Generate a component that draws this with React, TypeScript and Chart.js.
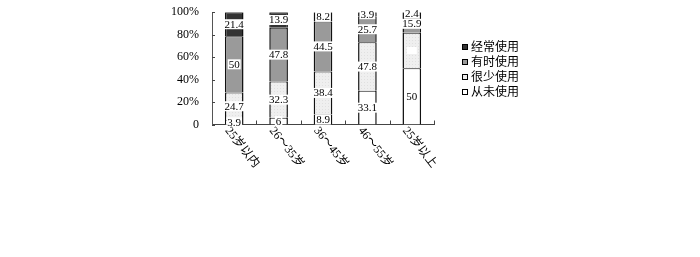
import { useEffect, useRef } from 'react';
import { Chart, registerables } from 'chart.js';

Chart.register(...registerables);

// Age groups along the x axis
const categories = ['25岁以内', '26～35岁', '36～45岁', '46～55岁', '25岁以上'];

// Survey answers per age group (percent of respondents), stacked bottom to top
const neverUse = [3.9, 6, 8.9, 33.1, 50];
const rarelyUse = [24.7, 32.3, 38.4, 47.8, 31.7];
const sometimesUse = [50, 47.8, 44.5, 25.7, 15.9];
const oftenUse = [21.4, 13.9, 8.2, 3.9, 2.4];

// Segment captions; null leaves an empty caption box
const neverText = ['3.9', '6', '8.9', '33.1', '50'];
const rarelyText = ['24.7', '32.3', '38.4', '47.8', null];
const sometimesText = ['50', '47.8', '44.5', '25.7', '15.9'];
const oftenText = ['21.4', '13.9', '8.2', '3.9', '2.4'];

const seriesNames = ['从未使用', '很少使用', '有时使用', '经常使用'];
const yTickValues = [0, 20, 40, 60, 80, 100];

const FONT = '"Liberation Serif", "Noto Sans CJK SC", serif';

function dottedPattern(): CanvasPattern | string {
  const c = document.createElement('canvas');
  c.width = 3;
  c.height = 3;
  const g = c.getContext('2d');
  if (!g) return '#eeeeee';
  g.fillStyle = '#efefef';
  g.fillRect(0, 0, 3, 3);
  g.fillStyle = '#e0e0e0';
  g.fillRect(1, 1, 1, 1);
  return g.createPattern(c, 'repeat') || '#eeeeee';
}

// 100% stacked: each group is scaled to its own total
function toShares(series: number[][]): number[][] {
  const totals = categories.map((_, i) => series.reduce((s, arr) => s + arr[i], 0));
  return series.map(arr => arr.map((v, i) => (v / totals[i]) * 100));
}

export default function App() {
  const canvasRef = useRef<HTMLCanvasElement | null>(null);

  useEffect(() => {
    const canvas = canvasRef.current;
    if (!canvas) return;

    const raw = [neverUse, rarelyUse, sometimesUse, oftenUse];
    const shares = toShares(raw);
    const texts = [neverText, rarelyText, sometimesText, oftenText];
    const colors: (string | CanvasPattern)[] = ['#ffffff', dottedPattern(), '#9a9a9a', '#333333'];

    const segmentLabels = {
      id: 'segmentLabels',
      afterDatasetsDraw(chart: any) {
        const ctx = chart.ctx;
        ctx.save();
        ctx.font = `11px ${FONT}`;
        ctx.textAlign = 'center';
        ctx.textBaseline = 'middle';
        chart.data.datasets.forEach((_: any, di: number) => {
          const meta = chart.getDatasetMeta(di);
          meta.data.forEach((bar: any, i: number) => {
            const text = texts[di][i];
            const { x, y, base } = bar.getProps(['x', 'y', 'base'], true);
            const cy = (y + base) / 2;
            const label = text ?? '';
            const w = label ? ctx.measureText(label).width + 2 : 10;
            const h = label ? 10 : 7;
            ctx.fillStyle = '#ffffff';
            ctx.fillRect(x - w / 2, cy - h / 2, w, h);
            if (label) {
              ctx.fillStyle = '#000000';
              ctx.fillText(label, x, cy + 0.5);
            }
          });
        });
        ctx.restore();
      },
    };

    const axisDecor = {
      id: 'axisDecor',
      afterDraw(chart: any) {
        const ctx = chart.ctx;
        const { left, right, bottom } = chart.chartArea;
        const xScale = chart.scales.x;
        const yScale = chart.scales.y;
        ctx.save();
        // inward tick marks
        ctx.strokeStyle = '#444444';
        ctx.lineWidth = 1;
        ctx.beginPath();
        yTickValues.forEach(v => {
          const py = Math.round(yScale.getPixelForValue(v)) + 0.5;
          ctx.moveTo(left, py);
          ctx.lineTo(left + 3, py);
        });
        const step = (right - left) / categories.length;
        for (let i = 1; i <= categories.length; i++) {
          const px = Math.round(left + i * step) + 0.5;
          ctx.moveTo(px, bottom);
          ctx.lineTo(px, bottom - 4);
        }
        ctx.stroke();

        // slanted category labels
        ctx.fillStyle = '#000000';
        ctx.font = `12px ${FONT}`;
        ctx.textAlign = 'left';
        ctx.textBaseline = 'middle';
        categories.forEach((c, i) => {
          const px = xScale.getPixelForValue(i);
          ctx.save();
          ctx.translate(px - 7, bottom + 4);
          ctx.rotate((52 * Math.PI) / 180);
          ctx.fillText(c, 0, 0);
          ctx.restore();
        });

        // legend, top series first
        const lx = 462;
        let ly = 47;
        ctx.font = `12px ${FONT}`;
        for (let di = chart.data.datasets.length - 1; di >= 0; di--) {
          const ds = chart.data.datasets[di];
          ctx.fillStyle = ds.backgroundColor;
          ctx.fillRect(lx, ly - 3, 6, 6);
          ctx.strokeStyle = '#000000';
          ctx.strokeRect(lx + 0.5, ly - 2.5, 5, 5);
          ctx.fillStyle = '#000000';
          ctx.fillText(ds.label, lx + 9, ly + 0.5);
          ly += 15;
        }
        ctx.restore();
      },
    };

    const chart = new Chart(canvas, {
      type: 'bar',
      data: {
        labels: categories,
        datasets: shares.map((d, di) => ({
          label: seriesNames[di],
          data: d,
          backgroundColor: colors[di] as any,
          borderColor: '#111111',
          borderWidth: { left: 1.5, right: 1.5, top: 1, bottom: 0 },
          borderSkipped: false,
          barPercentage: 0.42,
          categoryPercentage: 1,
        })),
      },
      options: {
        responsive: false,
        animation: false,
        layout: { padding: { top: 10, right: 266, left: 0, bottom: 0 } },
        plugins: {
          legend: { display: false },
          tooltip: { enabled: false },
        },
        scales: {
          x: {
            stacked: true,
            ticks: { display: false },
            grid: { display: false },
            border: { color: '#444444', width: 1 },
            afterFit: (s: any) => {
              s.height = 132.5;
            },
          },
          y: {
            stacked: true,
            min: 0,
            max: 100,
            ticks: {
              stepSize: 20,
              padding: 5,
              color: '#000000',
              font: { size: 12, family: FONT },
              callback: (v: any) => (Number(v) === 0 ? '0' : `${v}%`),
            },
            grid: { display: false },
            border: { color: '#555555', width: 1 },
            afterFit: (s: any) => {
              s.width = 212;
            },
          },
        },
      },
      plugins: [segmentLabels, axisDecor],
    });

    return () => chart.destroy();
  }, []);

  return (
    <div style={{ position: 'absolute', left: 0, top: 0, width: 700, height: 257, background: '#ffffff' }}>
      <canvas ref={canvasRef} width={700} height={257} style={{ width: 700, height: 257, display: 'block' }} />
    </div>
  );
}
